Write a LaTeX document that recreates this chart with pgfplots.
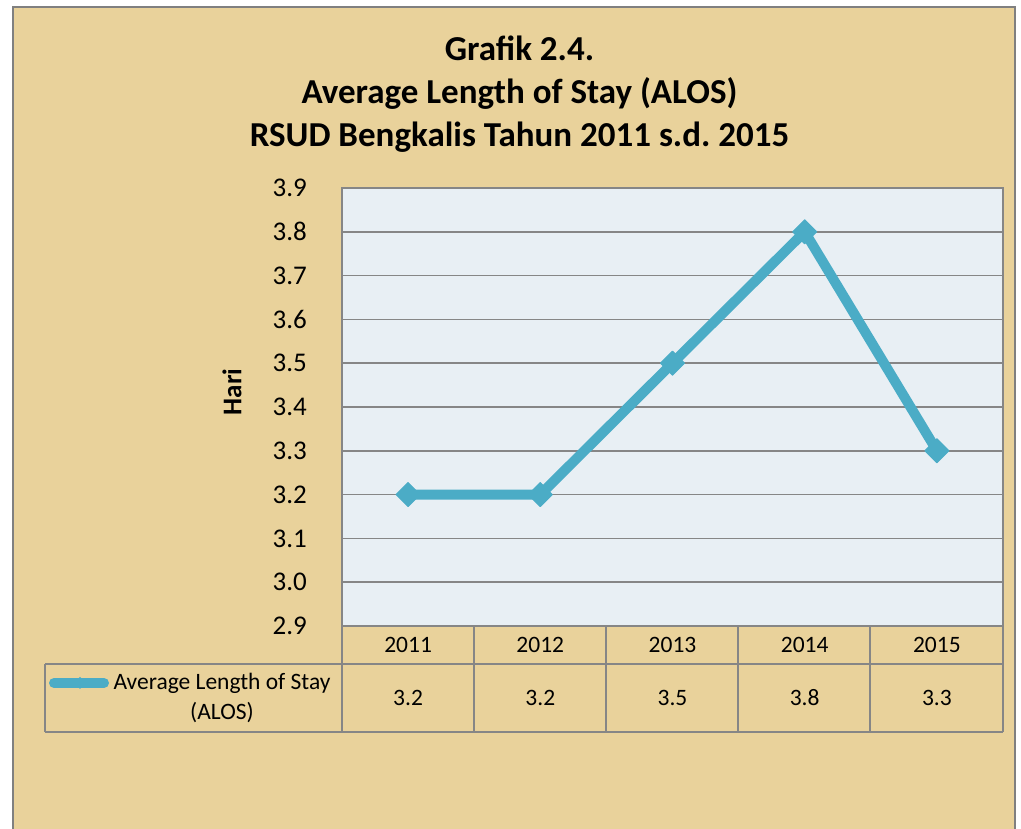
\documentclass[border=0pt]{standalone}
\usepackage{pgfplots}
\pgfplotsset{compat=1.18}
\usepackage{pgfplotstable}
\usepackage{fontspec}
\setmainfont{Carlito}
\frenchspacing
\definecolor{parch}{RGB}{233,210,155}
\definecolor{plotbg}{RGB}{232,239,244}
\definecolor{alos}{RGB}{75,172,198}
\definecolor{gridc}{RGB}{134,134,134}
\pgfplotstableread{
x year v
1 2011 3.2
2 2012 3.2
3 2013 3.5
4 2014 3.8
5 2015 3.3
}\alosdata
\begin{document}
\begin{tikzpicture}
\path[use as bounding box] (0pt,0pt) rectangle (1021pt,829pt);
\fill[white] (0pt,0pt) rectangle (1021pt,829pt);
\filldraw[fill=parch, draw=gray, line width=2pt] (13pt,-5pt) rectangle (1015pt,822pt);
% title
\node[anchor=base, font=\fontsize{35}{43}\selectfont\bfseries] at (519.5pt,768pt) {Grafik 2.4.};
\node[anchor=base, font=\fontsize{35}{43}\selectfont\bfseries] at (519.5pt,725pt) {Average Length of Stay (ALOS)};
\node[anchor=base, font=\fontsize{35}{43}\selectfont\bfseries] at (519.5pt,682pt) {RSUD Bengkalis Tahun 2011 s.d.\ 2015};
\begin{axis}[
  at={(342pt,203pt)}, anchor=south west,
  width=661pt, height=438pt, scale only axis,
  xmin=0.5, xmax=5.5, ymin=2.9, ymax=3.9,
  axis background/.style={fill=plotbg},
  axis line style={gridc, line width=1.5pt},
  ymajorgrids, grid style={gridc, line width=1.5pt},
  ytick={2.9,3.0,3.1,3.2,3.3,3.4,3.5,3.6,3.7,3.8,3.9},
  /pgf/number format/assume math mode=true,
  yticklabel style={/pgf/number format/.cd, fixed, fixed zerofill, precision=1, /tikz/.cd, font=\fontsize{27}{32}\selectfont, inner sep=0pt, xshift=-35pt},
  xtick={1,2,3,4,5}, xticklabels={2011,2012,2013,2014,2015},
  xticklabel style={font=\fontsize{23.5}{28}\selectfont, anchor=center, yshift=-19pt},
  major tick length=0pt,
  clip=false,
]
\addplot[alos, line width=10pt, line join=round, mark=square*, mark size=8.5pt,
  mark options={rotate=45, line width=1pt, fill=alos, draw=alos}]
  table[x=x, y=v] {\alosdata};
\addplot[draw=none, mark=none, nodes near coords, point meta=explicit,
  every node near coord/.append style={text=black, anchor=center, yshift=0pt,
  font=\fontsize{23.5}{28}\selectfont, /pgf/number format/fixed, /pgf/number format/precision=1}]
  table[x=x, y expr=2.7356, meta=v] {\alosdata};
\end{axis}
% data table grid
\draw[gridc, line width=1.5pt] (45pt,165pt) -- (1003pt,165pt);
\draw[gridc, line width=1.5pt] (45pt,97pt) -- (1003pt,97pt);
\draw[gridc, line width=1.5pt] (45pt,97pt) -- (45pt,165pt);
\foreach \xx in {342,474,606,738,870,1003} {\draw[gridc, line width=1.5pt] (\xx pt,97pt) -- (\xx pt,203pt);}
% legend
\draw[alos, line width=10pt, line cap=round] (54pt,146pt) -- (104pt,146pt);
\fill[alos] (80pt,152pt) -- (86pt,146pt) -- (80pt,140pt) -- (74pt,146pt) -- cycle;
\node[align=center, font=\fontsize{23.5}{30}\selectfont] at (222pt,131pt) {Average Length of Stay\\(ALOS)};
% y label
\node[rotate=90, font=\fontsize{27}{32}\selectfont\bfseries] at (232pt,437pt) {Hari};
\end{tikzpicture}
\end{document}
